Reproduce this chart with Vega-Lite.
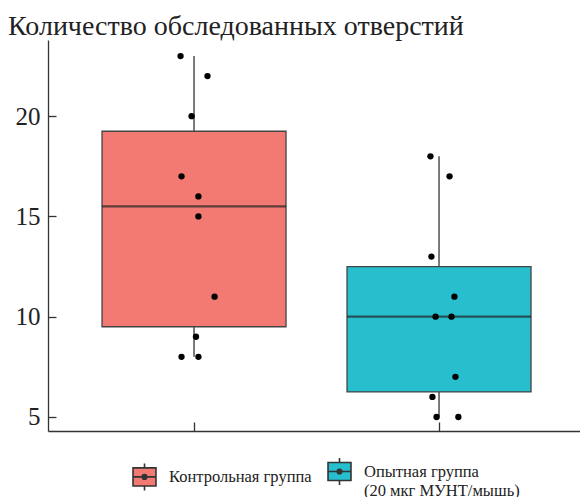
{
  "$schema": "https://vega.github.io/schema/vega-lite/v6.json",
  "width": 532,
  "height": 391,
  "autosize": "none",
  "padding": {"left": 48, "top": 40, "right": 0, "bottom": 66},
  "background": "white",
  "config": {
    "view": {"stroke": null},
    "style": {"guide-label": {"lineHeight": 19}}
  },
  "title": {
    "text": "Количество обследованных отверстий",
    "anchor": "start",
    "frame": "group",
    "dx": -40,
    "offset": -1,
    "font": "Liberation Serif",
    "fontSize": 28,
    "fontWeight": "normal",
    "color": "#222222"
  },
  "data": {
    "values": [
      {"group": "Контрольная группа", "count": 23, "jitter": -0.055},
      {"group": "Контрольная группа", "count": 22, "jitter": 0.055},
      {"group": "Контрольная группа", "count": 20, "jitter": -0.01},
      {"group": "Контрольная группа", "count": 17, "jitter": -0.051},
      {"group": "Контрольная группа", "count": 16, "jitter": 0.018},
      {"group": "Контрольная группа", "count": 15, "jitter": 0.018},
      {"group": "Контрольная группа", "count": 11, "jitter": 0.084},
      {"group": "Контрольная группа", "count": 9, "jitter": 0.008},
      {"group": "Контрольная группа", "count": 8, "jitter": -0.051},
      {"group": "Контрольная группа", "count": 8, "jitter": 0.018},
      {"group": "Опытная группа (20 мкг МУНТ/мышь)", "count": 18, "jitter": -0.035},
      {"group": "Опытная группа (20 мкг МУНТ/мышь)", "count": 17, "jitter": 0.043},
      {"group": "Опытная группа (20 мкг МУНТ/мышь)", "count": 13, "jitter": -0.031},
      {"group": "Опытная группа (20 мкг МУНТ/мышь)", "count": 11, "jitter": 0.063},
      {"group": "Опытная группа (20 мкг МУНТ/мышь)", "count": 10, "jitter": -0.014},
      {"group": "Опытная группа (20 мкг МУНТ/мышь)", "count": 10, "jitter": 0.051},
      {"group": "Опытная группа (20 мкг МУНТ/мышь)", "count": 7, "jitter": 0.067},
      {"group": "Опытная группа (20 мкг МУНТ/мышь)", "count": 6, "jitter": -0.027},
      {"group": "Опытная группа (20 мкг МУНТ/мышь)", "count": 5, "jitter": -0.01},
      {"group": "Опытная группа (20 мкг МУНТ/мышь)", "count": 5, "jitter": 0.079}
    ]
  },
  "encoding": {
    "x": {
      "field": "group",
      "type": "nominal",
      "scale": {"paddingInner": 0, "paddingOuter": 0.0857, "align": 0.56},
      "axis": {
        "labels": false,
        "title": null,
        "tickSize": -9,
        "domainColor": "#333333",
        "tickColor": "#333333",
        "domainWidth": 1.3,
        "tickWidth": 1.3
      }
    },
    "y": {
      "field": "count",
      "type": "quantitative",
      "scale": {"domain": [4.3, 23.8], "nice": false, "zero": false},
      "axis": {
        "values": [5, 10, 15, 20],
        "title": null,
        "grid": false,
        "tickSize": -8,
        "labelPadding": 16,
        "domainColor": "#333333",
        "tickColor": "#333333",
        "domainWidth": 1.3,
        "tickWidth": 1.3,
        "labelFont": "Liberation Serif",
        "labelFontSize": 25,
        "labelColor": "#222222"
      }
    }
  },
  "layer": [
    {
      "mark": {
        "type": "boxplot",
        "extent": "min-max",
        "size": 184,
        "box": {"stroke": "#444444", "strokeWidth": 1.3},
        "median": {"color": "#222222", "thickness": 2.2},
        "rule": {"color": "#333333", "strokeWidth": 1.3}
      },
      "encoding": {
        "color": {
          "field": "group",
          "type": "nominal",
          "scale": {
            "domain": ["Контрольная группа", "Опытная группа (20 мкг МУНТ/мышь)"],
            "range": ["#F27A72", "#27BFCE"]
          },
          "legend": {
            "orient": "none",
            "legendX": 82,
            "legendY": 417,
            "direction": "horizontal",
            "title": null,
            "symbolType": "M-0.85,-0.67H0.85V0.67H-0.85Z M0,-0.67V-1 M0,0.67V1 M-0.85,0H0.85 M-0.17,0A0.17,0.17 0 1,0 0.17,0A0.17,0.17 0 1,0 -0.17,0Z M-0.1,0A0.1,0.1 0 1,0 0.1,0A0.1,0.1 0 1,0 -0.1,0Z M-0.03,0A0.03,0.03 0 1,0 0.03,0A0.03,0.03 0 1,0 -0.03,0Z",
            "symbolSize": 729,
            "symbolStrokeColor": "#333333",
            "symbolStrokeWidth": 1.6,
            "symbolOpacity": 1,
            "labelFont": "Liberation Serif",
            "labelFontSize": 16.5,
            "labelColor": "#222222",
            "labelOffset": 10,
            "columnPadding": 12,
            "labelLimit": 300,
            "labelExpr": "datum.label == 'Опытная группа (20 мкг МУНТ/мышь)' ? ['Опытная группа', '(20 мкг МУНТ/мышь)'] : datum.label"
          }
        }
      }
    },
    {
      "mark": {"type": "circle", "size": 40, "color": "#000000", "opacity": 1},
      "encoding": {
        "xOffset": {"field": "jitter", "type": "quantitative", "scale": {"domain": [-0.5, 0.5]}}
      }
    }
  ]
}
